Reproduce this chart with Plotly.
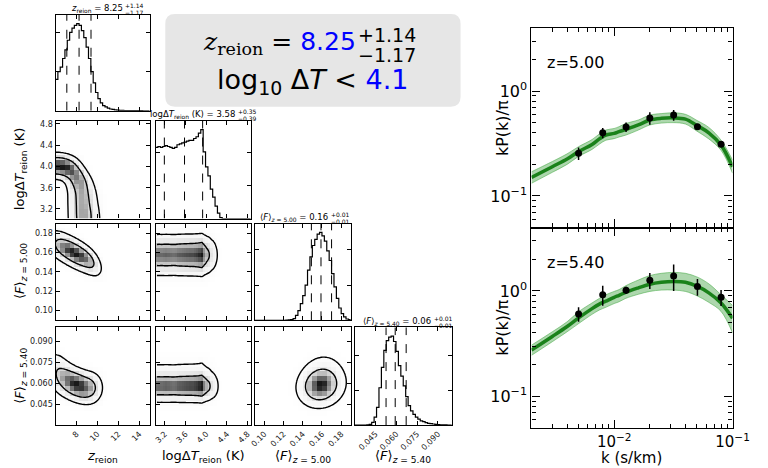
import numpy as np
import plotly.graph_objects as go

W, H = 768, 468

# ---------------- parameters of the corner plot ----------------
ranges = [[6.0, 15.0], [3.02, 4.86], [0.09, 0.19], [0.03, 0.10]]
tick_vals = [[8, 10, 12, 14],
             [3.2, 3.6, 4.0, 4.4, 4.8],
             [0.10, 0.12, 0.14, 0.16, 0.18],
             [0.045, 0.060, 0.075, 0.090]]
tick_text = [["8", "10", "12", "14"],
             ["3.2", "3.6", "4.0", "4.4", "4.8"],
             ["0.10", "0.12", "0.14", "0.16", "0.18"],
             ["0.045", "0.060", "0.075", "0.090"]]
axis_labels = ["<i>z</i><sub>reion</sub>",
               "logΔ<i>T</i><sub>reion</sub> (K)",
               "⟨<i>F</i>⟩<sub><i>z</i> = 5.00</sub>",
               "⟨<i>F</i>⟩<sub><i>z</i> = 5.40</sub>"]

# 1D marginal histograms (40 bins over each range, peak = 1)
hist_z = [0.36, 0.45, 0.50, 0.60, 0.70, 0.81, 0.90, 0.95, 0.98, 1.00,
          0.98, 0.92, 0.84, 0.73, 0.60, 0.45, 0.32, 0.21, 0.14, 0.09,
          0.06, 0.045, 0.03, 0.02, 0.015, 0.010, 0.007, 0.005, 0.004, 0.003,
          0.002, 0.002, 0.001, 0.001, 0.001, 0.0005, 0.0005, 0.0, 0.0, 0.0]
hist_logT = [0.80, 0.81, 0.80, 0.81, 0.82, 0.81, 0.80, 0.79, 0.80, 0.83,
             0.84, 0.85, 0.86, 0.87, 0.88, 0.88, 0.90, 0.92, 0.96, 1.00,
             0.75, 0.58, 0.48, 0.33, 0.24, 0.14, 0.06, 0.01, 0.0, 0.0,
             0.0, 0.0, 0.0, 0.0, 0.0, 0.0, 0.0, 0.0, 0.0, 0.0]
hist_F500 = [0.0, 0.0, 0.0, 0.0, 0.0, 0.0, 0.0, 0.0, 0.0, 0.0,
             0.0, 0.0, 0.0, 0.002, 0.004, 0.008, 0.02, 0.057, 0.11, 0.19,
             0.28, 0.40, 0.57, 0.72, 0.85, 0.92, 0.98, 1.00, 0.96, 0.90,
             0.79, 0.68, 0.53, 0.38, 0.25, 0.14, 0.075, 0.04, 0.015, 0.008]
hist_F540 = [0.0, 0.0, 0.0, 0.0, 0.0, 0.002, 0.008, 0.03, 0.09, 0.20,
             0.42, 0.65, 0.84, 0.95, 0.99, 1.00, 0.94, 0.83, 0.67, 0.55,
             0.44, 0.32, 0.22, 0.16, 0.12, 0.09, 0.066, 0.047, 0.04, 0.028,
             0.02, 0.016, 0.012, 0.008, 0.006, 0.004, 0.003, 0.002, 0.001, 0.0]
hists = [hist_z, hist_logT, hist_F500, hist_F540]
hist_yticks = [[0.45, 0.9], [0.37, 0.74], [0.4, 0.8], [0.39, 0.78]]

# 16th / 50th / 84th percentiles
q16 = [7.08, 3.19, 0.149, 0.0526]
q50 = [8.25, 3.58, 0.159, 0.0592]
q84 = [9.39, 3.93, 0.170, 0.0671]

title_main = ["<i>z</i><sub>reion</sub> = 8.25",
              "logΔ<i>T</i><sub>reion</sub> (K) = 3.58",
              "⟨<i>F</i>⟩<sub><i>z</i> = 5.00</sub> = 0.16",
              "⟨<i>F</i>⟩<sub><i>z</i> = 5.40</sub> = 0.06"]
title_plus = ["+1.14", "+0.35", "+0.01", "+0.01"]
title_minus = ["−1.17", "−0.39", "−0.01", "−0.01"]

# credible levels enclosed by the two contours
contour_mass = [0.68, 0.95]

# 2D posteriors as Gaussian mixtures: (x mean, y mean, x sd, y sd, rho, weight)
comp_z_logT = [(5.4, 4.02, 0.75, 0.12, 0.0, 1.0),
               (6.2, 4.02, 0.75, 0.12, 0.0, 1.0),
               (7.0, 3.99, 0.75, 0.12, 0.0, 1.0),
               (7.8, 3.88, 0.70, 0.13, -0.4, 1.05),
               (8.3, 3.66, 0.70, 0.14, -0.2, 1.1),
               (8.55, 3.40, 0.75, 0.15, 0.0, 1.2),
               (8.7, 3.14, 0.78, 0.15, 0.0, 1.25),
               (8.75, 2.90, 0.80, 0.15, 0.0, 1.25)]
comp_z_F500 = [(6.3, 0.167, 0.7, 0.0085, -0.4, 0.6),
               (7.3, 0.162, 0.7, 0.0085, -0.5, 0.9),
               (8.3, 0.157, 0.7, 0.0085, -0.5, 1.0),
               (9.3, 0.151, 0.6, 0.0080, -0.5, 0.5)]
comp_z_F540 = [(6.3, 0.067, 0.7, 0.0080, -0.3, 0.65),
               (7.4, 0.061, 0.7, 0.0062, -0.3, 0.9),
               (8.4, 0.058, 0.7, 0.0058, -0.2, 1.0),
               (9.4, 0.057, 0.6, 0.0058, 0.0, 0.5)]
comp_F500_F540 = [(0.159, 0.0580, 0.0105, 0.0066, 0.1, 0.8),
                  (0.160, 0.0650, 0.0110, 0.0080, 0.1, 0.2)]
# flux conditional on logT: (mean, sd, weight)
F500_given_logT = [(0.1575, 0.0105, 1.0)]
F540_given_logT = [(0.0575, 0.0052, 0.8), (0.0650, 0.0075, 0.2)]

# ---------------- flux power spectra ----------------
k_data = [0.005, 0.008, 0.0126, 0.02, 0.0318, 0.0505, 0.08]
p_z500 = [0.255, 0.40, 0.454, 0.553, 0.59, 0.457, 0.311]
e_z500 = [0.035, 0.045, 0.047, 0.075, 0.07, 0.02, 0.015]
p_z540 = [0.604, 0.922, 1.015, 1.264, 1.39, 1.10, 0.87]
e_z540 = [0.095, 0.20, 0.08, 0.22, 0.39, 0.20, 0.15]

k_model = [0.002, 0.003, 0.004, 0.005, 0.0065, 0.0075, 0.0085, 0.01, 0.011, 0.0125,
           0.016, 0.02, 0.025, 0.0318, 0.04, 0.05, 0.063, 0.08, 0.1]
mid500 = [0.15, 0.19, 0.225, 0.265, 0.31, 0.35, 0.38, 0.395, 0.41, 0.43,
          0.475, 0.53, 0.55, 0.555, 0.54, 0.47, 0.40, 0.305, 0.19]
lo500 = [0.132, 0.168, 0.200, 0.238, 0.278, 0.312, 0.340, 0.352, 0.365, 0.380,
         0.425, 0.475, 0.495, 0.50, 0.485, 0.415, 0.35, 0.272, 0.165]
hi500 = [0.170, 0.213, 0.252, 0.295, 0.345, 0.390, 0.425, 0.440, 0.458, 0.49,
         0.53, 0.59, 0.61, 0.62, 0.60, 0.525, 0.45, 0.34, 0.22]
mid540 = [0.275, 0.37, 0.46, 0.555, 0.68, 0.75, 0.80, 0.87, 0.91, 0.97,
          1.07, 1.16, 1.21, 1.23, 1.21, 1.11, 0.96, 0.77, 0.55]
lo540 = [0.245, 0.33, 0.41, 0.49, 0.60, 0.66, 0.70, 0.76, 0.79, 0.85,
         0.93, 0.99, 1.02, 1.02, 0.99, 0.90, 0.78, 0.64, 0.40]
hi540 = [0.306, 0.41, 0.51, 0.635, 0.77, 0.85, 0.92, 0.99, 1.03, 1.12,
         1.27, 1.40, 1.47, 1.50, 1.47, 1.36, 1.17, 0.92, 0.73]


# ---------------- helpers ----------------
def mixture(xg, yg, comps):
    X, Y = np.meshgrid(xg, yg)
    D = np.zeros_like(X)
    for mx, my, sx, sy, rho, w in comps:
        u = (X - mx) / sx
        v = (Y - my) / sy
        D += w / (sx * sy * np.sqrt(1 - rho ** 2)) * np.exp(
            -(u * u - 2 * rho * u * v + v * v) / (2 * (1 - rho ** 2)))
    return D


def with_logT(hist, yg, fcomps):
    g = np.zeros_like(yg)
    for m, s, w in fcomps:
        g += w / s * np.exp(-0.5 * ((yg - m) / s) ** 2)
    return np.outer(g, np.asarray(hist))


def mass_levels(D):
    f = np.sort(D.ravel())[::-1]
    c = np.cumsum(f) / f.sum()
    return [f[np.searchsorted(c, m)] for m in contour_mass]


def centers(rng, n):
    e = np.linspace(rng[0], rng[1], n + 1)
    return 0.5 * (e[1:] + e[:-1])


def ann(x, y, text, size, xanchor="center", yanchor="middle", angle=0,
        color="black", family="DejaVu Sans"):
    return dict(x=x / W, y=1 - y / H, xref="paper", yref="paper", text=text,
                showarrow=False, xanchor=xanchor, yanchor=yanchor, borderpad=0,
                textangle=angle, font=dict(size=size, color=color, family=family))


fig = go.Figure()
layout = dict(width=W, height=H, margin=dict(l=0, r=0, t=0, b=0),
              paper_bgcolor="white", plot_bgcolor="white", showlegend=False,
              font=dict(family="DejaVu Sans", color="black"))
annotations = []

col_px = [(52, 149), (155, 253), (257, 356), (360, 460)]
row_px = [(14, 110), (120, 218), (223, 320), (327, 425)]

corner_axis = dict(showline=True, linecolor="black", linewidth=1.2, mirror="ticks",
                   ticks="inside", ticklen=4, tickwidth=1, tickcolor="black",
                   showgrid=False, zeroline=False,
                   tickfont=dict(size=8, color="#222", family="DejaVu Sans"))
gray_scale = [[0.0, "rgb(255,255,255)"], [0.25, "rgb(240,240,240)"],
              [0.5, "rgb(200,200,200)"], [0.75, "rgb(125,125,125)"],
              [1.0, "rgb(25,25,25)"]]

mix_for = {(1, 0): comp_z_logT, (2, 0): comp_z_F500, (3, 0): comp_z_F540,
           (3, 2): comp_F500_F540}
logT_for = {(2, 1): F500_given_logT, (3, 1): F540_given_logT}

n = 0
for r in range(4):
    for c in range(r + 1):
        n += 1
        sfx = "" if n == 1 else str(n)
        xa = dict(corner_axis, domain=[col_px[c][0] / W, col_px[c][1] / W],
                  range=ranges[c], anchor="y" + sfx, tickmode="array",
                  tickvals=tick_vals[c], ticktext=tick_text[c], tickangle=-45)
        if r != 3:
            xa["showticklabels"] = False
        ya = dict(corner_axis, domain=[1 - row_px[r][1] / H, 1 - row_px[r][0] / H],
                  anchor="x" + sfx)
        if r == c:
            ya.update(range=[0, 1.1], tickmode="array", tickvals=hist_yticks[r],
                      showticklabels=False)
            lo_e, hi_e = ranges[c]
            edges = np.linspace(lo_e, hi_e, len(hists[c]) + 1)
            fig.add_trace(go.Scatter(x=edges, y=list(hists[c]) + [hists[c][-1]],
                                     mode="lines", line=dict(color="black", width=1.2, shape="hv"),
                                     xaxis="x" + sfx, yaxis="y" + sfx, hoverinfo="skip"))
            for q in (q16[c], q50[c], q84[c]):
                fig.add_trace(go.Scatter(x=[q, q], y=[0, 1.1], mode="lines",
                                         line=dict(color="black", width=1, dash="dash"),
                                         xaxis="x" + sfx, yaxis="y" + sfx, hoverinfo="skip"))
            # title with stacked errors
            xc = [122, 238, 334, 440][c]
            yc = [8, 114, 217, 321][c]
            annotations.append(ann(xc, yc, title_main[c], 8.5, xanchor="right"))
            annotations.append(ann(xc + 0.5, yc - 3, title_plus[c], 6, xanchor="left"))
            annotations.append(ann(xc + 0.5, yc + 4, title_minus[c], 6, xanchor="left"))
        else:
            ya.update(range=ranges[r], tickmode="array", tickvals=tick_vals[r],
                      ticktext=tick_text[r])
            if c != 0:
                ya["showticklabels"] = False
            if (r, c) in mix_for:
                comps = mix_for[(r, c)]
                hx, hy = centers(ranges[c], 20), centers(ranges[r], 20)
                Dh = mixture(hx, hy, comps)
                cx, cy = np.linspace(*ranges[c], 70), np.linspace(*ranges[r], 70)
                Dc = mixture(cx, cy, comps)
            else:
                fcomps = logT_for[(r, c)]
                hx = centers(ranges[1], len(hist_logT))
                hy = centers(ranges[r], 20)
                Dh = with_logT(hist_logT, hy, fcomps)
                cx = hx
                cy = np.linspace(*ranges[r], 70)
                Dc = with_logT(hist_logT, cy, fcomps)
            fig.add_trace(go.Heatmap(x=hx, y=hy, z=Dh / Dh.max(), zmin=0, zmax=1,
                                     colorscale=gray_scale,
                                     showscale=False, xaxis="x" + sfx, yaxis="y" + sfx,
                                     hoverinfo="skip"))
            t_in, t_out = mass_levels(Dc)
            fig.add_trace(go.Contour(x=cx, y=cy, z=Dc, showscale=False,
                                     contours=dict(coloring="lines", start=t_out, end=t_in,
                                                   size=(t_in - t_out) * 0.999),
                                     colorscale=[[0, "black"], [1, "black"]],
                                     line=dict(width=1.4),
                                     xaxis="x" + sfx, yaxis="y" + sfx, hoverinfo="skip"))
        layout["xaxis" + sfx] = xa
        layout["yaxis" + sfx] = ya

# axis labels of the corner plot
for i, yc in zip((1, 2, 3), (169, 271, 376)):
    annotations.append(ann(16, yc, axis_labels[i], 13, angle=-90))
for i, xc in enumerate((100, 204, 307, 410)):
    annotations.append(ann(xc, 456, axis_labels[i], 13))

# ---------------- power-spectrum panels ----------------
xminor = [m * 10.0 ** e for e in (-3, -2) for m in range(2, 10)]
yminor = [m * 10.0 ** e for e in (-2, -1, 0) for m in range(2, 10)]
ps_axis = dict(showline=True, linecolor="black", linewidth=1.3, mirror="allticks",
               ticks="inside", ticklen=8, tickwidth=1.2, tickcolor="black",
               showgrid=False, zeroline=False, type="log",
               tickfont=dict(size=16, color="black", family="DejaVu Sans"))
panels = [(27, 227, p_z500, e_z500, mid500, lo500, hi500, "z=5.00"),
          (227, 428, p_z540, e_z540, mid540, lo540, hi540, "z=5.40")]
for j, (t, b, pv, ev, mid, lo, hi, lab) in enumerate(panels):
    n = 11 + j
    sfx = str(n)
    layout["xaxis" + sfx] = dict(ps_axis, domain=[542 / W, 749 / W],
                                 range=[np.log10(0.002), -1.0], anchor="y" + sfx,
                                 tickmode="array", tickvals=[0.01, 0.1],
                                 ticktext=["10<sup>−2</sup>", "10<sup>−1</sup>"],
                                 showticklabels=(j == 1),
                                 tickfont=dict(size=15, color="black", family="DejaVu Sans"),
                                 minor=dict(tickmode="array", tickvals=xminor, ticks="inside",
                                            ticklen=4, tickcolor="black", showgrid=False))
    layout["yaxis" + sfx] = dict(ps_axis, domain=[1 - b / H, 1 - t / H],
                                 range=[np.log10(0.05), np.log10(4.0)], anchor="x" + sfx,
                                 tickmode="array", tickvals=[0.1, 1.0],
                                 ticktext=["10<sup>−1</sup>", "10<sup>0</sup>"],
                                 minor=dict(tickmode="array", tickvals=yminor, ticks="inside",
                                            ticklen=4, tickcolor="black", showgrid=False))
    fig.add_trace(go.Scatter(x=k_model, y=lo, mode="lines",
                             line=dict(color="rgba(70,170,70,0.55)", width=1, shape="spline"),
                             xaxis="x" + sfx, yaxis="y" + sfx, hoverinfo="skip"))
    fig.add_trace(go.Scatter(x=k_model, y=hi, mode="lines", fill="tonexty",
                             fillcolor="rgba(40,150,40,0.38)",
                             line=dict(color="rgba(70,170,70,0.55)", width=1, shape="spline"),
                             xaxis="x" + sfx, yaxis="y" + sfx, hoverinfo="skip"))
    fig.add_trace(go.Scatter(x=k_model, y=mid, mode="lines",
                             line=dict(color="rgba(0,115,0,0.85)", width=3.5, shape="spline"),
                             xaxis="x" + sfx, yaxis="y" + sfx, hoverinfo="skip"))
    fig.add_trace(go.Scatter(x=k_data, y=pv, mode="markers",
                             marker=dict(color="black", size=7),
                             error_y=dict(type="data", array=ev, color="black",
                                          thickness=1.5, width=0),
                             xaxis="x" + sfx, yaxis="y" + sfx, hoverinfo="skip"))
    annotations.append(ann(557, [62, 262][j], lab, 16, xanchor="left"))
    annotations.append(ann(512, [127, 327][j], "kP(k)/π", 16, angle=-90))
annotations.append(ann(645, 458, "k (s/km)", 15))

# ---------------- summary box ----------------
bx0, bx1, by0, by1, rad = 165, 469, 13, 106, 10


def P(x, y):
    return f"{x / W:.5f},{1 - y / H:.5f}"


box_path = (f"M {P(bx0 + rad, by0)} L {P(bx1 - rad, by0)} Q {P(bx1, by0)} {P(bx1, by0 + rad)} "
            f"L {P(bx1, by1 - rad)} Q {P(bx1, by1)} {P(bx1 - rad, by1)} "
            f"L {P(bx0 + rad, by1)} Q {P(bx0, by1)} {P(bx0, by1 - rad)} "
            f"L {P(bx0, by0 + rad)} Q {P(bx0, by0)} {P(bx0 + rad, by0)} Z")
layout["shapes"] = [dict(type="path", path=box_path, xref="paper", yref="paper",
                         fillcolor="#e6e6e6", line=dict(width=0), layer="below")]

line1 = ('<span style="font-family:DejaVu Serif"><i>z</i><sub>reion</sub></span>'
         ' = <span style="color:blue">8.25</span>')
line2 = 'log<sub>10</sub> Δ<i>T</i> &lt; <span style="color:blue">4.1</span>'
annotations.append(ann(362, 42, line1, 25, xanchor="right"))
annotations.append(ann(362, 34, "+1.14", 19, xanchor="left"))
annotations.append(ann(362, 54, "−1.17", 19, xanchor="left"))
annotations.append(ann(317, 81, line2, 27))

layout["annotations"] = annotations
fig.update_layout(**layout)
fig.write_html("out.html")
